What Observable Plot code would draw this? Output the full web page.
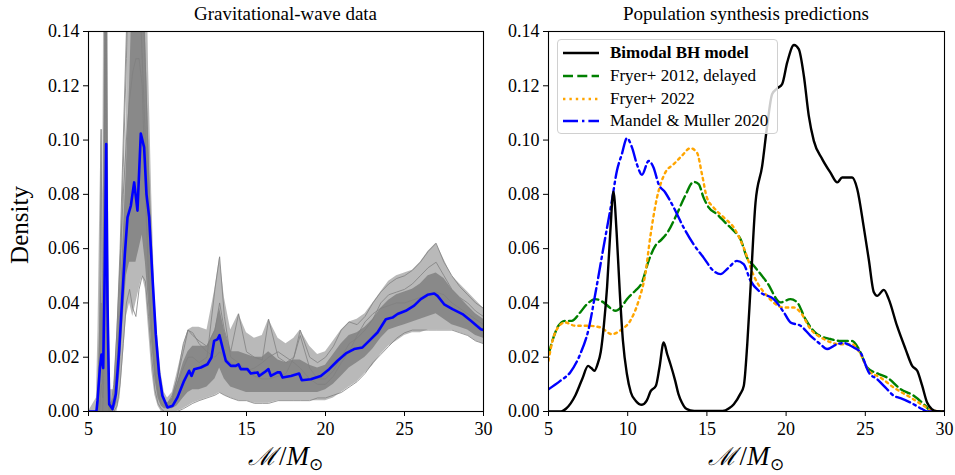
<!DOCTYPE html>
<html><head><meta charset="utf-8">
<script src="https://cdn.jsdelivr.net/npm/d3@7"></script>
<script src="https://cdn.jsdelivr.net/npm/@observablehq/plot@0.6"></script>
<style>
body{margin:0;background:#fff;}
#wrap{position:relative;width:955px;height:475px;font-family:"Liberation Serif","Times New Roman",serif;color:#000;overflow:hidden;}
#wrap svg, #wrap svg text{font-family:"Liberation Serif","Times New Roman",serif !important;}
.panel{position:absolute;top:0;}
.title{position:absolute;top:3px;font-size:19px;white-space:nowrap;transform:translateX(-50%);}
.xlab{position:absolute;top:438px;font-size:27px;white-space:nowrap;transform:translateX(-50%);}
.xlab i{font-style:italic;}
.xlab sub{font-size:17px;vertical-align:-5px;}
.cal{font-family:"DejaVu Serif",serif;font-style:italic;font-size:25px;margin-right:2px;}
.ylab{position:absolute;left:20px;top:225px;font-size:25px;white-space:nowrap;transform:translate(-50%,-50%) rotate(-90deg);}
#legend{position:absolute;left:557px;top:39px;width:221px;height:95px;border:1px solid #d0d0d0;border-radius:4px;background:rgba(255,255,255,0.8);box-sizing:border-box;}
.lrow{position:absolute;left:0;height:22px;font-size:17px;white-space:nowrap;}
.lrow svg{position:absolute;left:5px;top:4px;}
.lrow span{position:absolute;left:52px;top:0;line-height:22px;}
</style>
</head><body>
<div id="wrap"></div>
<script>
// ---------- Left panel: gravitational-wave data ----------
const gridX = [5,5.5,5.6,5.7,5.8,5.9, 6.0,6.1,6.2,6.3,6.4,6.6,6.8, 7.0,7.2,7.4,7.6,7.8, 8.0,8.2,8.4,8.6,8.8, 9.0,9.2,9.4,9.6,9.8, 10,10.3,10.6,11,11.3,11.6, 12,12.5,13,13.3,13.6, 14,14.5,15,15.5,16,16.4, 17,17.5,18,18.4,19,19.5, 20,20.5,21,21.5,22,22.5,23,23.5,24,24.5, 25,25.5,26,26.5,27,27.5,28,28.5,29,29.5,30];
const bandHi = [0,0.005,0.03,0.07,0.104,0.08, 0.2,0.25,0.2,0.04,0.008,0.008,0.025, 0.05,0.075,0.11,0.2,0.2, 0.2,0.2,0.2,0.2,0.127, 0.08,0.042,0.026,0.014,0.007, 0.005,0.007,0.014,0.024,0.03,0.031, 0.031,0.03,0.045,0.057,0.042, 0.03,0.036,0.029,0.027,0.028,0.034, 0.027,0.025,0.027,0.03,0.024,0.021, 0.022,0.026,0.03,0.033,0.034,0.036,0.04,0.044,0.048,0.05, 0.051,0.052,0.055,0.059,0.062,0.056,0.05,0.047,0.044,0.041,0.038];
const bandLo = [0,0,0,0,0,0, 0,0,0,0,0,0,0, 0.005,0.02,0.035,0.04,0.035, 0.04,0.045,0.05,0.045,0.03, 0.015,0.006,0.002,0,0, 0,0,0,0.001,0.002,0.003, 0.004,0.005,0.006,0.007,0.006, 0.005,0.004,0.004,0.003,0.003,0.003, 0.004,0.004,0.004,0.004,0.004,0.004, 0.004,0.005,0.007,0.009,0.011,0.014,0.017,0.021,0.024,0.026, 0.028,0.029,0.029,0.03,0.03,0.03,0.03,0.029,0.028,0.026,0.025];
const coreHi = [0,0,0.01,0.03,0.05,0.03, 0.12,0.2,0.12,0.01,0.003,0.005,0.018, 0.04,0.065,0.09,0.12,0.16, 0.2,0.2,0.2,0.14,0.1, 0.06,0.032,0.018,0.008,0.004, 0.003,0.005,0.01,0.018,0.022,0.024, 0.024,0.024,0.03,0.038,0.03, 0.022,0.022,0.021,0.02,0.02,0.022, 0.019,0.018,0.019,0.019,0.017,0.016, 0.017,0.021,0.025,0.028,0.029,0.031,0.034,0.038,0.041,0.043, 0.044,0.045,0.047,0.05,0.051,0.049,0.045,0.042,0.039,0.036,0.034];
const coreLo = [0,0,0,0,0,0, 0,0,0,0,0,0,0.003, 0.015,0.035,0.05,0.055,0.055, 0.055,0.06,0.065,0.055,0.04, 0.025,0.012,0.005,0.002,0.001, 0.001,0.001,0.002,0.005,0.007,0.008, 0.008,0.009,0.012,0.016,0.012, 0.009,0.008,0.007,0.007,0.007,0.007, 0.007,0.007,0.007,0.007,0.007,0.007, 0.008,0.01,0.013,0.016,0.018,0.02,0.023,0.027,0.03,0.031, 0.032,0.033,0.034,0.035,0.036,0.034,0.032,0.031,0.03,0.028,0.027];
const draw1 = [0,0,0,0.02,0.104,0.02, 0.03,0.25,0.05,0.002,0,0.004,0.02, 0.05,0.09,0.13,0.18,0.2, 0.2,0.2,0.16,0.127,0.09, 0.06,0.03,0.014,0.006,0.003, 0.003,0.006,0.012,0.022,0.03,0.028, 0.026,0.024,0.03,0.04,0.03, 0.022,0.036,0.022,0.02,0.019,0.034, 0.02,0.018,0.02,0.03,0.02,0.018, 0.02,0.024,0.03,0.033,0.032,0.035,0.04,0.044,0.047,0.049, 0.05,0.052,0.055,0.059,0.062,0.055,0.05,0.046,0.043,0.04,0.038];
const draw2 = [0,0,0,0,0,0, 0.02,0.06,0.02,0,0,0,0.002, 0.01,0.025,0.04,0.045,0.038, 0.035,0.045,0.05,0.048,0.035, 0.02,0.008,0.003,0.001,0, 0,0,0,0.001,0.002,0.003, 0.004,0.005,0.006,0.007,0.006, 0.005,0.004,0.004,0.003,0.003,0.003, 0.004,0.004,0.004,0.004,0.004,0.005, 0.005,0.006,0.007,0.009,0.011,0.014,0.018,0.021,0.024,0.027, 0.029,0.03,0.03,0.03,0.03,0.03,0.03,0.029,0.028,0.026,0.025];
const draw3 = [0,0,0,0.01,0.04,0.01, 0.1,0.18,0.06,0.005,0.001,0.006,0.03, 0.06,0.1,0.14,0.17,0.2, 0.18,0.16,0.13,0.1,0.07, 0.05,0.03,0.015,0.007,0.003, 0.002,0.004,0.01,0.016,0.02,0.02, 0.018,0.02,0.045,0.057,0.035, 0.02,0.018,0.015,0.013,0.012,0.012, 0.013,0.014,0.02,0.028,0.016,0.012, 0.012,0.015,0.02,0.025,0.027,0.03,0.034,0.04,0.043,0.044, 0.045,0.047,0.05,0.053,0.055,0.05,0.045,0.042,0.04,0.037,0.035];
const draw4 = [0,0,0,0,0.01,0.005, 0.06,0.14,0.04,0.003,0.001,0.01,0.03, 0.055,0.08,0.1,0.115,0.125, 0.13,0.13,0.12,0.08,0.05, 0.03,0.015,0.007,0.003,0.002, 0.002,0.005,0.012,0.025,0.03,0.029, 0.025,0.022,0.02,0.022,0.02, 0.018,0.016,0.015,0.016,0.018,0.02, 0.022,0.02,0.018,0.016,0.012,0.01, 0.01,0.013,0.018,0.022,0.028,0.033,0.036,0.038,0.039,0.04, 0.04,0.041,0.042,0.043,0.044,0.043,0.04,0.038,0.036,0.034,0.032];
const medX = [5,5.5,5.57,5.72,5.82, 5.93,6.03,6.12,6.2,6.31, 6.52,6.73,6.94,7.15,7.3, 7.47,7.68,7.89,8.1,8.31, 8.52,8.67,8.84,9.05,9.26, 9.47,9.68,10.0,10.32,10.63, 11.05,11.37,11.52,11.69,12.11, 12.53,12.78,12.95,13.16,13.29, 13.48,13.69,14.01,14.32,14.49, 14.64,15.06,15.27,15.7,15.8, 16.12,16.39,16.54,16.96,17.13, 17.28,17.81,18.33,18.5,19.07, 19.7,20.23,20.76,21.29,21.81, 22.34,22.76,23.29,23.82,24.24, 24.56,25.08,25.61,26.03,26.46, 26.88,27.09,27.51,28.04,28.67, 29.2,29.83,30];
const medY = [0,0,0.0039,0.016,0.021, 0.016,0.053,0.0985,0.041,0.0027, 0.0009,0.0064,0.0224,0.0432,0.058, 0.0715,0.0758,0.0844,0.074,0.1024, 0.0973,0.08,0.0715,0.0494,0.0285, 0.0138,0.0058,0.0015,0.0021,0.0052, 0.0113,0.015,0.0131,0.0156,0.0162, 0.0174,0.0199,0.026,0.0266,0.0281, 0.0236,0.0187,0.0168,0.0168,0.0174, 0.0156,0.0156,0.014,0.0144,0.0131, 0.0144,0.0156,0.0131,0.0144,0.0144, 0.0125,0.0131,0.014,0.0115,0.0119, 0.0131,0.0156,0.0187,0.0214,0.023, 0.0236,0.026,0.0291,0.034,0.0346, 0.0359,0.0371,0.039,0.0414,0.043, 0.0435,0.0426,0.0395,0.0377,0.0359, 0.0334,0.0303,0.030];

// ---------- Right panel: population synthesis ----------
const seriesNames = ["Bimodal BH model","Fryer+ 2012, delayed","Fryer+ 2022","Mandel & Muller 2020"];
const bhX = [5,5.8,6.1,6.4,6.7, 7.13,7.5,7.7,7.9,8.1, 8.3,8.5,8.7,8.9,9.1, 9.3,9.5,9.7,9.95,10.2, 10.5,10.9,11.2,11.45,11.78, 12.0,12.27,12.5,12.7,13.0, 13.2,13.42,13.7,14.2,16.0, 16.4,16.7,17.1,17.33,17.55, 17.75,18.07,18.49,18.8,19.12, 19.43,19.75,20.07,20.5,20.8, 21.12,21.43,21.75,22.28,22.8, 23.23,23.54,24.17,24.49,24.9, 25.22,25.54,25.75,26.17,26.48, 27.0,27.54,27.96,28.28,28.59, 28.9,29.2,29.5,30];
const bhY = [0,0,0.001,0.003,0.006, 0.012,0.0168,0.016,0.015,0.0175, 0.022,0.032,0.046,0.066,0.081, 0.066,0.044,0.026,0.0138,0.007, 0.004,0.0025,0.004,0.0075,0.0095, 0.016,0.0254,0.021,0.0174,0.0113, 0.0065,0.0033,0.001,0.0002,0.0002, 0.0012,0.0027,0.0064,0.0095,0.025, 0.045,0.077,0.0905,0.105,0.117, 0.119,0.1206,0.1286,0.135,0.1335, 0.1237,0.109,0.0997,0.093,0.088, 0.0844,0.0862,0.0862,0.082,0.068, 0.056,0.0439,0.0426,0.0448,0.0414, 0.0316,0.023,0.0168,0.015,0.0095, 0.0033,0.0009,0.0001,0];
const f12X = [5,5.3,5.63,6.05,6.47, 7.0,7.42,7.95,8.47,9.0, 9.21,9.6,9.95,10.48,10.9, 11.32,11.74,12.16,12.58,13.1, 13.63,14.16,14.48,14.79,15.11, 15.64,16.16,16.69,17.12,17.53, 17.96,18.8,19.65,20.28,20.7, 21.22,21.96,22.8,23.43,24.17, 24.59,25.12,25.85,26.38,27.22, 28.06,28.8,29.1,30];
const f12Y = [0.021,0.027,0.0316,0.0334,0.0334, 0.0365,0.0395,0.0414,0.0402,0.0377, 0.0371,0.0385,0.0414,0.0445,0.0475, 0.0555,0.061,0.0635,0.0666,0.0727, 0.0795,0.0846,0.0838,0.0788,0.0752, 0.0727,0.0696,0.0666,0.0635,0.0567, 0.0537,0.0475,0.0402,0.0414,0.0402, 0.034,0.0285,0.0267,0.026,0.026, 0.023,0.0162,0.0138,0.0125,0.0083, 0.0058,0.0021,0.0003,0];
const f22X = [5,5.25,5.53,6.05,6.68, 7.42,8.26,9.0,9.63,10.16, 10.69,11.11,11.42,11.85,12.37, 12.9,13.42,13.95,14.37,14.69, 15.0,15.42,16.06,16.69,17.32, 17.96,18.8,19.86,20.5,20.91, 21.54,22.38,23.43,24.17,24.7, 25.22,25.96,26.8,27.85,28.69, 29.2,30];
const f22Y = [0.0187,0.026,0.0303,0.0328,0.0316, 0.0316,0.031,0.0285,0.0303,0.0334, 0.0408,0.0506,0.0641,0.0788,0.088, 0.0911,0.0942,0.097,0.0954,0.0874, 0.0788,0.0752,0.0715,0.0678,0.0604, 0.05,0.0426,0.0383,0.0383,0.0365, 0.0304,0.0267,0.0248,0.0248,0.0211, 0.015,0.0125,0.0088,0.0052,0.0021, 0.0003,0];
const mmX = [5,5.74,6.37,7.0,7.53, 7.95,8.47,9.0,9.32,9.63, 9.95,10.27,10.58,10.9,11.32, 11.63,11.95,12.37,12.9,13.53, 14.16,14.79,15.42,15.85,16.37, 16.9,17.32,17.75,18.38,19.22, 19.86,20.28,20.91,21.54,22.17, 22.59,23.22,23.64,24.27,24.7, 25.22,25.75,26.28,26.8,27.22, 27.85,28.59,28.9,30];
const mmY = [0.0082,0.0113,0.0144,0.0211,0.0303, 0.0432,0.0604,0.0776,0.0887,0.0948, 0.1007,0.0973,0.0911,0.0872,0.0923, 0.0899,0.0838,0.0807,0.0752,0.0678, 0.0616,0.0567,0.0518,0.0506,0.053, 0.0555,0.0543,0.0482,0.0439,0.0414, 0.0365,0.0328,0.0316,0.0279,0.0248, 0.023,0.0248,0.0252,0.0236,0.0217, 0.0144,0.0119,0.0088,0.0058,0.0049, 0.0033,0.0009,0,0];

const xTicks = [5,10,15,20,25,30];
const yTicks = [0,0.02,0.04,0.06,0.08,0.10,0.12,0.14];
const titles = ["Gravitational-wave data","Population synthesis predictions"];

// ---------- build ----------
const FONT = '"Liberation Serif","Times New Roman",serif';
const styles = [
  {stroke:"black", dash:null},
  {stroke:"green", dash:"10,4.3"},
  {stroke:"orange", dash:"2.4,4"},
  {stroke:"blue", dash:"15,4,2.4,4"}
];
const SW = 2.4;

function axes() {
  return [
    Plot.frame({stroke:"black", strokeWidth:1.1}),
    Plot.axisX({ticks:xTicks, tickFormat:d=>String(d), tickSize:5, tickPadding:6, label:null, fontSize:18}),
    Plot.axisY({ticks:yTicks, tickFormat:d3.format(".2f"), tickSize:5, tickPadding:4, label:null, fontSize:18})
  ];
}
const common = {
  height:475, marginTop:31, marginBottom:64,
  x:{domain:[5,30], label:null}, y:{domain:[0,0.14], label:null},
  style:{fontFamily:FONT, fontSize:"18px", background:"transparent", overflow:"visible"}
};

const bandRows = gridX.map((x,i)=>({x, lo:bandLo[i], hi:bandHi[i], clo:coreLo[i], chi:coreHi[i]}));
const draws = [draw1,draw2,draw3,draw4].flatMap((arr,k)=>arr.map((y,i)=>({x:gridX[i], y, k})));
const median = medX.map((x,i)=>({x, y:medY[i]}));

const left = Plot.plot({
  ...common, width:490, marginLeft:88, marginRight:7,
  marks:[
    Plot.areaY(bandRows,{x:"x", y1:"lo", y2:"hi", fill:"#808080", fillOpacity:0.55, clip:true}),
    Plot.areaY(bandRows,{x:"x", y1:"clo", y2:"chi", fill:"#808080", fillOpacity:0.85, clip:true}),
    Plot.lineY(draws,{x:"x", y:"y", z:"k", stroke:"#808080", strokeWidth:0.8, clip:true}),
    Plot.lineY(median,{x:"x", y:"y", stroke:"blue", strokeWidth:2.6, clip:true}),
    ...axes()
  ]
});

const seriesXs = [bhX,f12X,f22X,mmX], seriesYs = [bhY,f12Y,f22Y,mmY];
const order = [1,2,3,0];
const right = Plot.plot({
  ...common, width:465, marginLeft:58, marginRight:11,
  marks:[
    ...order.map(s=>Plot.line(seriesXs[s].map((x,i)=>({x, y:seriesYs[s][i]})),
      {x:"x", y:"y", stroke:styles[s].stroke, strokeWidth:SW, strokeDasharray:styles[s].dash, curve:"monotone-x", clip:true})),
    ...axes()
  ]
});

const wrap = document.getElementById("wrap");
function place(node, left) { node.classList.add("panel"); node.style.left = left+"px"; wrap.appendChild(node); }
place(left, 0);
place(right, 490);

const t1 = document.createElement("div"); t1.className="title"; t1.style.left="285.5px"; t1.textContent=titles[0]; wrap.appendChild(t1);
const t2 = document.createElement("div"); t2.className="title"; t2.style.left="746px"; t2.textContent=titles[1]; wrap.appendChild(t2);
[285.5, 746].forEach(cx=>{
  const d = document.createElement("div"); d.className="xlab"; d.style.left=cx+"px";
  d.innerHTML = '<span class="cal">ℳ</span>/<i>M</i><sub>⊙</sub>';
  wrap.appendChild(d);
});
const yl = document.createElement("div"); yl.className="ylab"; yl.textContent="Density"; wrap.appendChild(yl);

const lg = document.createElement("div"); lg.id="legend";
const rowY = [1.7, 24.7, 47.7, 70];
seriesNames.forEach((name,i)=>{
  const r = document.createElement("div"); r.className="lrow"; r.style.top=rowY[i]+"px";
  const dash = styles[i].dash ? `stroke-dasharray="${styles[i].dash}"` : "";
  r.innerHTML = `<svg width="36" height="14"><line x1="0" x2="36" y1="7" y2="7" stroke="${styles[i].stroke}" stroke-width="${SW}" ${dash}/></svg><span style="${i===0?'font-weight:bold':''}">${name.replace("&","&amp;")}</span>`;
  lg.appendChild(r);
});
wrap.appendChild(lg);
</script>
</body></html>
